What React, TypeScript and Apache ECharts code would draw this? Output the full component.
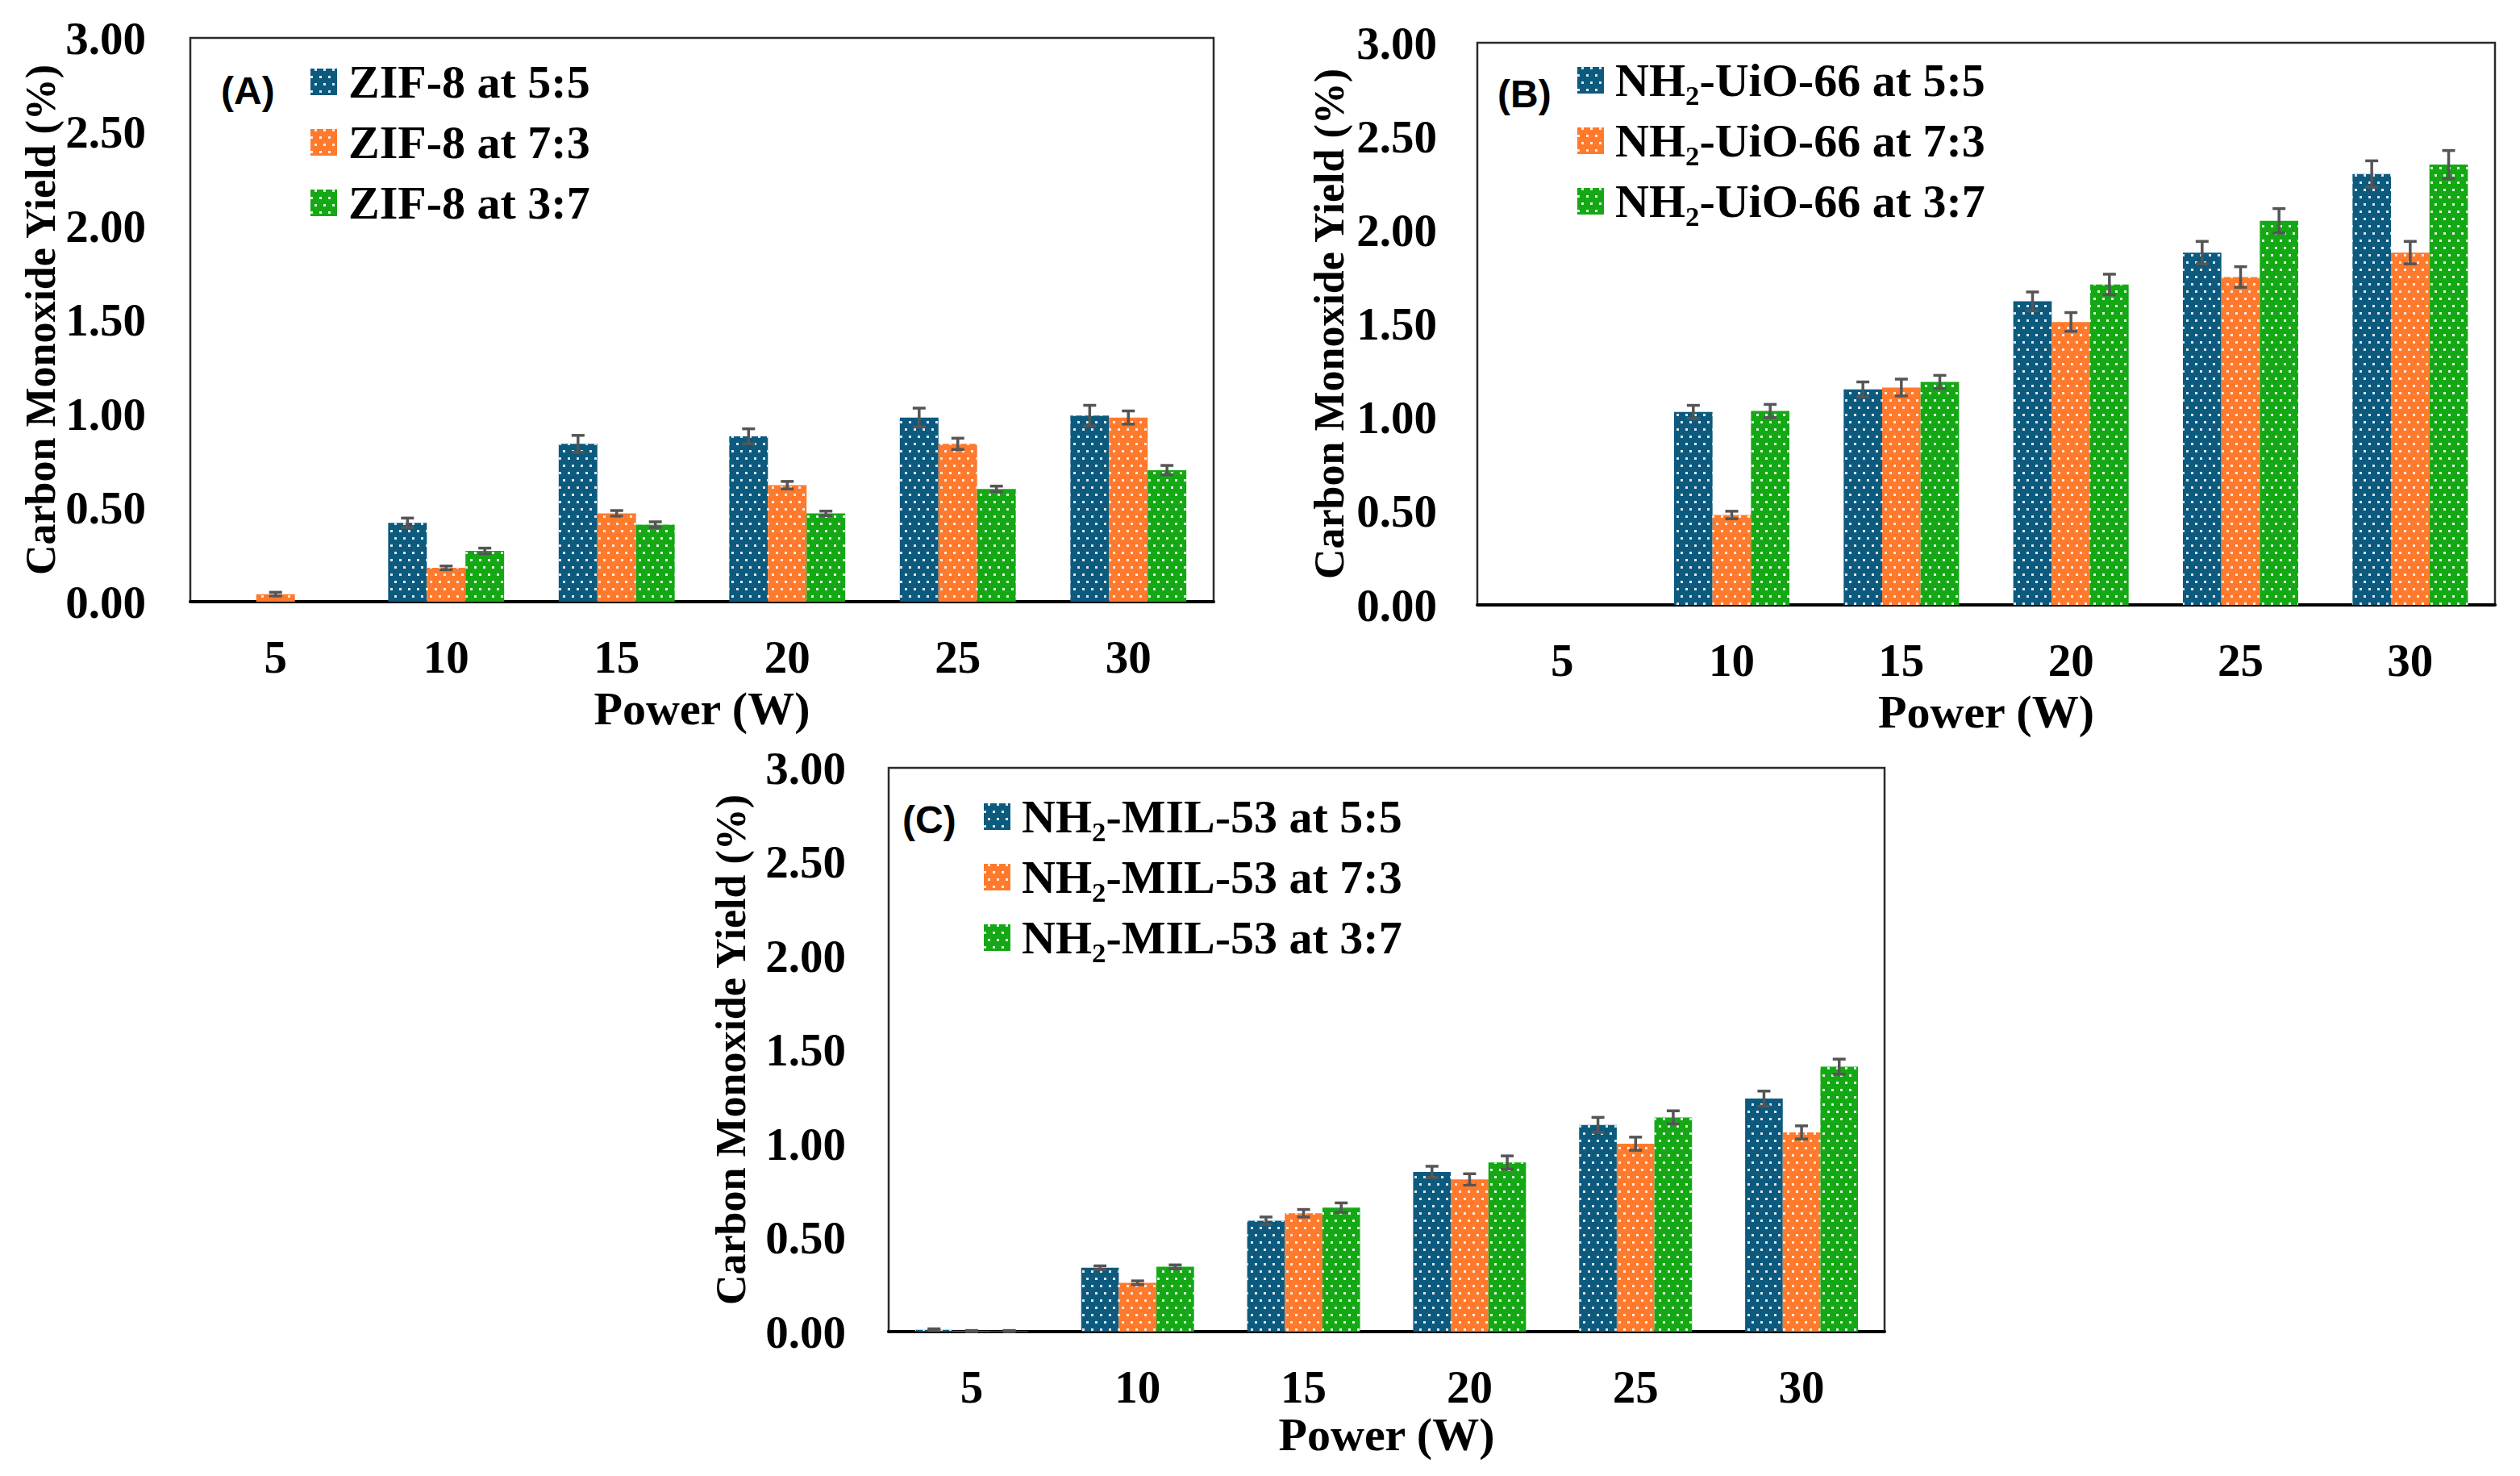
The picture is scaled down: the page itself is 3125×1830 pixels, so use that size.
import React, { useEffect, useRef } from "react";
import * as echarts from "echarts";

// ---------- data ----------
const categories = ["5", "10", "15", "20", "25", "30"];

const zifNames = ["ZIF-8 at 5:5", "ZIF-8 at 7:3", "ZIF-8 at 3:7"];
const zif55 = [0, 0.42, 0.84, 0.88, 0.98, 0.99];
const zif73 = [0.04, 0.18, 0.47, 0.62, 0.84, 0.98];
const zif37 = [0, 0.27, 0.41, 0.47, 0.6, 0.7];
const zif55Err = [0, 0.025, 0.045, 0.04, 0.05, 0.055];
const zif73Err = [0.01, 0.01, 0.015, 0.02, 0.03, 0.035];
const zif37Err = [0, 0.015, 0.015, 0.012, 0.015, 0.025];

const uioNames = ["NH₂-UiO-66 at 5:5", "NH₂-UiO-66 at 7:3", "NH₂-UiO-66 at 3:7"];
const uio55 = [0, 1.03, 1.15, 1.62, 1.88, 2.3];
const uio73 = [0, 0.48, 1.16, 1.51, 1.75, 1.88];
const uio37 = [0, 1.035, 1.19, 1.71, 2.05, 2.35];
const uio55Err = [0, 0.035, 0.04, 0.05, 0.06, 0.07];
const uio73Err = [0, 0.02, 0.045, 0.05, 0.055, 0.06];
const uio37Err = [0, 0.035, 0.035, 0.055, 0.065, 0.075];

const milNames = ["NH₂-MIL-53 at 5:5", "NH₂-MIL-53 at 7:3", "NH₂-MIL-53 at 3:7"];
const mil55 = [0.01, 0.34, 0.59, 0.85, 1.1, 1.24];
const mil73 = [0.003, 0.26, 0.63, 0.81, 1.0, 1.06];
const mil37 = [0.003, 0.345, 0.66, 0.9, 1.14, 1.41];
const mil55Err = [0.005, 0.01, 0.02, 0.03, 0.04, 0.04];
const mil73Err = [0.003, 0.01, 0.02, 0.03, 0.035, 0.035];
const mil37Err = [0.003, 0.01, 0.025, 0.035, 0.035, 0.04];

const yTickStep = 0.5;
const yMax = 3;

// ---------- styling / layout ----------
const colors = ["#0c5a7e", "#ff7a2c", "#15a815"];
const SERIF = "'Liberation Serif', 'Times New Roman', Times, serif";
const SANS = "'Liberation Sans', Arial, Helvetica, sans-serif";
const CAT_GAP = 0.32;

const panels = [
  {
    tag: "(A)",
    names: zifNames,
    values: [zif55, zif73, zif37],
    errors: [zif55Err, zif73Err, zif37Err],
    grid: { left: 236, top: 47, width: 1269, height: 699 },
    legend: { left: 380, top: 67 },
    tagPos: { left: 274, top: 88 },
    yNameGap: 160,
    yLabelMargin: 55,
    xNameGap: 103,
  },
  {
    tag: "(B)",
    names: uioNames,
    values: [uio55, uio73, uio37],
    errors: [uio55Err, uio73Err, uio37Err],
    grid: { left: 1832, top: 53, width: 1262, height: 697 },
    legend: { left: 1951, top: 65 },
    tagPos: { left: 1857, top: 92 },
    yNameGap: 158,
    yLabelMargin: 50,
    xNameGap: 103,
  },
  {
    tag: "(C)",
    names: milNames,
    values: [mil55, mil73, mil37],
    errors: [mil55Err, mil73Err, mil37Err],
    grid: { left: 1102, top: 952, width: 1235, height: 699 },
    legend: { left: 1215, top: 978 },
    tagPos: { left: 1119, top: 992 },
    yNameGap: 170,
    yLabelMargin: 53,
    xNameGap: 98,
  },
];

const decal = {
  symbol: "rect",
  symbolSize: 1,
  color: "rgba(255,255,255,0.85)",
  dashArrayX: [
    [2.5, 7.5],
    [0, 5, 2.5, 2.5],
  ],
  dashArrayY: [3, 6],
  rotation: 0,
};

function buildOption() {
  const grid: any[] = [];
  const xAxis: any[] = [];
  const yAxis: any[] = [];
  const legend: any[] = [];
  const series: any[] = [];
  const graphic: any[] = [];

  panels.forEach((p, pi) => {
    grid.push({
      ...p.grid,
      show: true,
      borderColor: "#2a2a2a",
      borderWidth: 2.5,
      backgroundColor: "#fff",
    });
    xAxis.push({
      type: "category",
      gridIndex: pi,
      data: categories,
      axisTick: { show: false },
      axisLine: { show: true, lineStyle: { color: "#000", width: 4 } },
      axisLabel: {
        margin: 40,
        fontFamily: SERIF,
        fontWeight: "bold",
        fontSize: 57,
        lineHeight: 57,
        color: "#000",
      },
      name: "Power (W)",
      nameLocation: "middle",
      nameGap: p.xNameGap,
      nameTextStyle: {
        fontFamily: SERIF,
        fontWeight: "bold",
        fontSize: 58,
        lineHeight: 58,
        color: "#000",
      },
    });
    yAxis.push({
      type: "value",
      gridIndex: pi,
      min: 0,
      max: yMax,
      interval: yTickStep,
      splitLine: { show: false },
      axisTick: { show: false },
      axisLine: { show: false },
      axisLabel: {
        margin: p.yLabelMargin,
        fontFamily: SERIF,
        fontWeight: "bold",
        fontSize: 57,
        color: "#000",
        formatter: (v: number) => v.toFixed(2),
      },
      name: "Carbon Monoxide Yield (%)",
      nameLocation: "middle",
      nameRotate: 90,
      nameGap: p.yNameGap,
      nameTextStyle: {
        fontFamily: SERIF,
        fontWeight: "bold",
        fontSize: 52,
        lineHeight: 52,
        color: "#000",
      },
    });
    legend.push({
      data: p.names,
      orient: "vertical",
      left: p.legend.left,
      top: p.legend.top,
      icon: "rect",
      itemWidth: 33,
      itemHeight: 33,
      itemGap: 16,
      selectedMode: false,
      textStyle: {
        fontFamily: SERIF,
        fontWeight: "bold",
        fontSize: 58,
        lineHeight: 59,
        color: "#000",
        padding: [0, 0, 0, 9],
      },
    });
    graphic.push({
      type: "text",
      left: p.tagPos.left,
      top: p.tagPos.top,
      style: {
        text: p.tag,
        font: `bold 48px ${SANS}`,
        fill: "#000",
      },
      z: 20,
    });

    p.names.forEach((name, si) => {
      series.push({
        type: "bar",
        name,
        xAxisIndex: pi,
        yAxisIndex: pi,
        data: p.values[si],
        barGap: "0%",
        barCategoryGap: `${CAT_GAP * 100}%`,
        itemStyle: { color: colors[si], decal },
        emphasis: { disabled: true },
      });
    });
    p.names.forEach((name, si) => {
      const errData = p.values[si].map((v, k) => [k, v, p.errors[si][k]]);
      series.push({
        type: "custom",
        xAxisIndex: pi,
        yAxisIndex: pi,
        data: errData,
        encode: { x: 0, y: 1 },
        z: 10,
        silent: true,
        renderItem: (params: any, api: any) => {
          const idx = api.value(0);
          const v = api.value(1);
          const e = api.value(2);
          if (!e) return null;
          const band = api.size([1, 0])[0];
          const bw = (band * (1 - CAT_GAP)) / 3;
          const cx = api.coord([idx, v])[0] + (si - 1) * bw;
          const yt = api.coord([idx, v + e])[1];
          const yb = api.coord([idx, Math.max(v - e, 0)])[1];
          const half = 8;
          const st = { stroke: "#555555", lineWidth: 3.5 };
          return {
            type: "group",
            children: [
              { type: "line", shape: { x1: cx, y1: yt, x2: cx, y2: yb }, style: st },
              { type: "line", shape: { x1: cx - half, y1: yt, x2: cx + half, y2: yt }, style: st },
              { type: "line", shape: { x1: cx - half, y1: yb, x2: cx + half, y2: yb }, style: st },
            ],
          };
        },
      });
    });
  });

  return {
    animation: false,
    backgroundColor: "#fff",
    grid,
    xAxis,
    yAxis,
    legend,
    series,
    graphic,
  };
}

export default function App() {
  const ref = useRef<HTMLDivElement>(null);
  useEffect(() => {
    if (!ref.current) return;
    const chart = echarts.init(ref.current, null, { renderer: "svg" });
    chart.setOption(buildOption() as any);
    return () => chart.dispose();
  }, []);
  return (
    <div
      ref={ref}
      style={{
        position: "fixed",
        left: 0,
        top: 0,
        width: 3125,
        height: 1830,
        background: "#fff",
      }}
    />
  );
}
